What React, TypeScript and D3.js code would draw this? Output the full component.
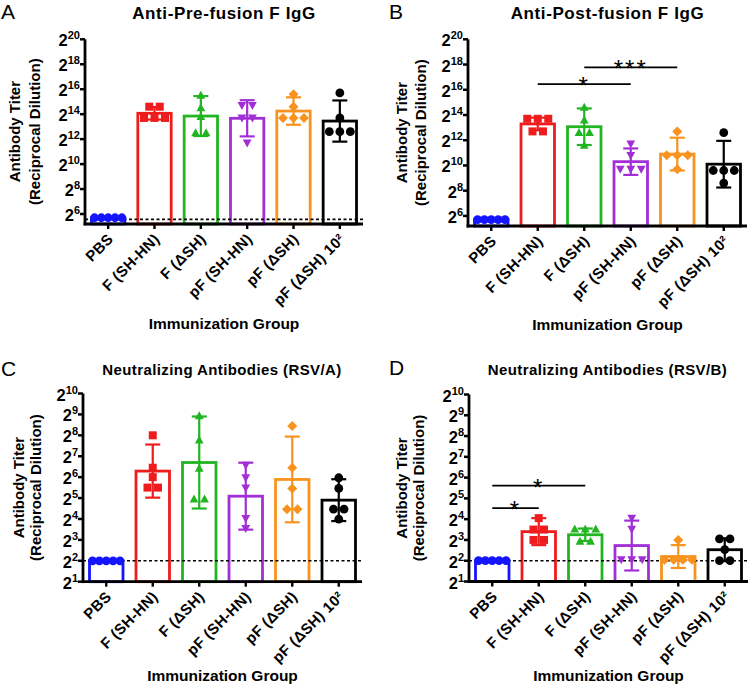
import React from "react";
import * as d3 from "d3";

// ---------- data (log2 titers) ----------
const categories = ["PBS", "F (SH-HN)", "F (ΔSH)", "pF (SH-HN)", "pF (ΔSH)", "pF (ΔSH) 10²"];
const colors = ["#1414ff", "#ee1c1c", "#22b522", "#a22fd6", "#f7931e", "#000000"];
const shapes = ["circle", "square", "triangle", "triangleDown", "diamond", "circle"];

const preMean = [5.7, 14.07, 13.85, 13.67, 14.25, 13.45];
const preSD = [0, 0.5, 1.6, 1.45, 1.1, 1.65];
const prePoints = [
  [5.7, 5.7, 5.7, 5.7, 5.7],
  [14.6, 14.6, 13.7, 13.7, 13.7],
  [15.5, 14.5, 13.8, 12.5, 12.5],
  [14.7, 14.7, 13.7, 13.7, 11.7],
  [15.6, 14.6, 13.7, 13.7, 13.7],
  [15.7, 13.7, 12.6, 12.6, 12.6],
];
const preLOD = 5.57;

const postMean = [5.7, 13.29, 13.07, 10.3, 10.9, 10.1];
const postSD = [0, 0.5, 1.45, 1.05, 1.3, 1.85];
const postPoints = [
  [5.7, 5.7, 5.7, 5.7, 5.7],
  [13.7, 13.7, 13.7, 12.7, 12.7],
  [14.6, 13.6, 12.6, 12.6, 11.6],
  [11.7, 10.8, 9.7, 9.7, 9.7],
  [12.7, 10.8, 10.8, 10.8, 9.7],
  [12.6, 9.6, 9.6, 9.6, 8.6],
];
const postSig = [
  { from: 1, to: 3, level: 16.45, label: "*" },
  { from: 2, to: 4, level: 17.78, label: "***" },
];

const nAMean = [2, 6.29, 6.7, 5.09, 5.89, 4.9];
const nASD = [0, 1.27, 2.2, 1.6, 2.05, 1.0];
const nAPoints = [
  [2, 2, 2, 2, 2],
  [8.0, 6.45, 6.0, 5.5, 5.5],
  [8.93, 7.77, 6.42, 4.95, 4.95],
  [6.57, 5.97, 5.49, 4.03, 3.55],
  [8.45, 6.45, 5.46, 4.47, 4.47],
  [5.97, 5.46, 4.47, 4.47, 3.99],
];

const nBMean = [2, 3.4, 3.25, 2.73, 2.2, 2.53];
const nBSD = [0, 0.65, 0.3, 1.2, 0.55, 0.55];
const nBPoints = [
  [2, 2, 2, 2, 2],
  [4.05, 3.5, 3.5, 3.0, 3.0],
  [3.52, 3.52, 3.52, 2.93, 2.93],
  [4.05, 3.52, 2.05, 2.05, 2.05],
  [3.0, 2.05, 2.05, 2.05, 2.05],
  [3.05, 3.05, 2.53, 2.0, 2.0],
];
const nBSig = [
  { from: 0, to: 1, level: 4.53, label: "*" },
  { from: 0, to: 2, level: 5.61, label: "*" },
];
const nLOD = 2;

const igTicks = [6, 8, 10, 12, 14, 16, 18, 20];
const nTicks = [1, 2, 3, 4, 5, 6, 7, 8, 9, 10];

const FONT = "'Liberation Sans', Arial, Helvetica, sans-serif";

function markerPath(shape: string, s: number) {
  switch (shape) {
    case "square":
      return `M${-s},${-s}H${s}V${s}H${-s}Z`;
    case "triangle":
      return `M0,${-s * 1.15}L${s * 1.1},${s * 0.85}L${-s * 1.1},${s * 0.85}Z`;
    case "triangleDown":
      return `M0,${s * 1.15}L${s * 1.1},${-s * 0.85}L${-s * 1.1},${-s * 0.85}Z`;
    case "diamond":
      return `M0,${-s * 1.25}L${s * 1.25},0L0,${s * 1.25}L${-s * 1.25},0Z`;
    default:
      return d3.arc()({ innerRadius: 0, outerRadius: s * 1.1, startAngle: 0, endAngle: 2 * Math.PI }) as string;
  }
}

type Cfg = {
  axisX: number; xRight: number; yTop: number; yBottom: number;
  domain: [number, number]; ticks: number[];
  mean: number[]; sd: number[]; points: number[][];
  lod?: number; sig?: { from: number; to: number; level: number; label: string }[];
  title: string; titleX: number; titleY: number; titleSize: number; titleSpacing: number;
  letter: string; letterX: number; letterY: number;
  ylab1: number; ylab2: number; xTitleY: number;
};

function Panel({ c }: { c: Cfg }) {
  const x = d3.scaleBand<string>().domain(categories).range([c.axisX, c.xRight]);
  const y = d3.scaleLinear().domain(c.domain).range([c.yBottom, c.yTop]);
  const step = x.step();
  const barW = step * 0.72;
  const cx = (i: number) => (x(categories[i]) as number) + step / 2;
  const midY = (c.yTop + c.yBottom) / 2;

  // beeswarm-like horizontal spreading of coincident points
  const placed: { px: number; py: number; i: number }[] = [];
  c.points.forEach((vals, i) => {
    const pys = vals.map((v) => y(v)).sort((a, b) => a - b);
    const groups: number[][] = [];
    pys.forEach((py) => {
      const g = groups[groups.length - 1];
      if (g && Math.abs(py - g[0]) < 5) g.push(py);
      else groups.push([py]);
    });
    groups.forEach((g) => {
      const n = g.length;
      const sp = n > 1 ? Math.min(10.5, (barW - 6) / (n - 1)) : 0;
      g.forEach((py, k) => placed.push({ px: cx(i) + (k - (n - 1) / 2) * sp, py, i }));
    });
  });

  return (
    <g fontFamily={FONT}>
      <text x={c.letterX} y={c.letterY} fontSize={21} fill="#000">{c.letter}</text>
      <text x={c.titleX} y={c.titleY} fontSize={c.titleSize} fontWeight="bold" textAnchor="middle" letterSpacing={c.titleSpacing}>{c.title}</text>

      {/* bars */}
      {c.mean.map((m, i) => (
        <rect key={"b" + i} x={cx(i) - barW / 2} y={y(m)} width={barW} height={c.yBottom - y(m)}
          fill="none" stroke={colors[i]} strokeWidth={2.8} />
      ))}

      {c.lod !== undefined && (
        <line x1={c.axisX} x2={c.xRight} y1={y(c.lod)} y2={y(c.lod)} stroke="#000" strokeWidth={1.6} strokeDasharray="3,2.5" />
      )}

      {/* error bars */}
      {c.mean.map((m, i) =>
        c.sd[i] > 0 ? (
          <g key={"e" + i} stroke={colors[i]} strokeWidth={2.2}>
            <line x1={cx(i)} x2={cx(i)} y1={y(m + c.sd[i])} y2={y(m - c.sd[i])} />
            <line x1={cx(i) - 7.5} x2={cx(i) + 7.5} y1={y(m + c.sd[i])} y2={y(m + c.sd[i])} />
            <line x1={cx(i) - 7.5} x2={cx(i) + 7.5} y1={y(m - c.sd[i])} y2={y(m - c.sd[i])} />
          </g>
        ) : null
      )}

      {/* points */}
      {placed.map((p, k) => (
        <path key={"p" + k} d={markerPath(shapes[p.i], 4)} transform={`translate(${p.px},${p.py})`} fill={colors[p.i]} />
      ))}

      {/* y axis */}
      <line x1={c.axisX} x2={c.axisX} y1={c.yTop} y2={c.yBottom + 1.4} stroke="#000" strokeWidth={2.8} />
      {c.ticks.map((t) => (
        <g key={"t" + t}>
          <line x1={c.axisX - 5} x2={c.axisX} y1={y(t)} y2={y(t)} stroke="#000" strokeWidth={2.5} />
          <text x={c.axisX - 5} y={y(t) + 7} textAnchor="end" fontSize={16.5} fontWeight="bold">
            2<tspan dy={-7} fontSize={11}>{t}</tspan>
          </text>
        </g>
      ))}

      {/* x axis */}
      <line x1={c.axisX - 1.4} x2={c.xRight} y1={c.yBottom} y2={c.yBottom} stroke="#000" strokeWidth={2.8} />
      {categories.map((cat, i) => (
        <g key={"x" + i}>
          <line x1={cx(i)} x2={cx(i)} y1={c.yBottom} y2={c.yBottom + 5} stroke="#000" strokeWidth={2.4} />
          <text transform={`translate(${cx(i) + 6},${c.yBottom + 16}) rotate(-45)`} textAnchor="end"
            fontSize={15} fontWeight="bold" letterSpacing={0.3}>{cat}</text>
        </g>
      ))}

      {/* significance */}
      {(c.sig || []).map((s, k) => (
        <g key={"s" + k}>
          <line x1={cx(s.from)} x2={cx(s.to)} y1={y(s.level)} y2={y(s.level)} stroke="#000" strokeWidth={1.7} />
          <text x={(cx(s.from) + cx(s.to)) / 2} y={y(s.level) + 10} textAnchor="middle" fontSize={24} letterSpacing={2}>{s.label}</text>
        </g>
      ))}

      {/* axis titles */}
      <g transform={`translate(${c.ylab1},${midY}) rotate(-90)`}>
        <text textAnchor="middle" fontSize={15} fontWeight="bold">Antibody Titer</text>
      </g>
      <g transform={`translate(${c.ylab2},${midY}) rotate(-90)`}>
        <text textAnchor="middle" fontSize={15} fontWeight="bold">(Reciprocal Dilution)</text>
      </g>
      <text x={(c.axisX + c.xRight) / 2} y={c.xTitleY} textAnchor="middle" fontSize={15.5} fontWeight="bold">Immunization Group</text>
    </g>
  );
}

const panels: Cfg[] = [
  {
    axisX: 85, xRight: 363, yTop: 39.3, yBottom: 224, domain: [5.2, 20], ticks: igTicks,
    mean: preMean, sd: preSD, points: prePoints, lod: preLOD,
    title: "Anti-Pre-fusion F IgG", titleX: 224, titleY: 18.5, titleSize: 17, titleSpacing: 0.6,
    letter: "A", letterX: 1, letterY: 19, ylab1: 20, ylab2: 40, xTitleY: 329,
  },
  {
    axisX: 468, xRight: 747, yTop: 39.3, yBottom: 226, domain: [5.2, 20], ticks: igTicks,
    mean: postMean, sd: postSD, points: postPoints, sig: postSig,
    title: "Anti-Post-fusion F IgG", titleX: 607.5, titleY: 18.5, titleSize: 17, titleSpacing: 0.6,
    letter: "B", letterX: 389, letterY: 19, ylab1: 407, ylab2: 426, xTitleY: 330,
  },
  {
    axisX: 83, xRight: 362, yTop: 393.5, yBottom: 581.7, domain: [1, 10], ticks: nTicks,
    mean: nAMean, sd: nASD, points: nAPoints, lod: nLOD,
    title: "Neutralizing Antibodies (RSV/A)", titleX: 222, titleY: 375, titleSize: 15, titleSpacing: 0.4,
    letter: "C", letterX: 1, letterY: 376, ylab1: 24, ylab2: 41, xTitleY: 681,
  },
  {
    axisX: 469, xRight: 748, yTop: 394.5, yBottom: 581.5, domain: [1, 10], ticks: nTicks,
    mean: nBMean, sd: nBSD, points: nBPoints, lod: nLOD, sig: nBSig,
    title: "Neutralizing Antibodies (RSV/B)", titleX: 607.5, titleY: 375, titleSize: 15, titleSpacing: 0.4,
    letter: "D", letterX: 389, letterY: 375, ylab1: 407, ylab2: 424, xTitleY: 681,
  },
];

export default function App() {
  return (
    <svg width={750} height={684} style={{ position: "absolute", left: 0, top: 0, background: "#fff" }}>
      <rect width={750} height={684} fill="#fff" />
      {panels.map((p, i) => (
        <Panel key={i} c={p} />
      ))}
    </svg>
  );
}
